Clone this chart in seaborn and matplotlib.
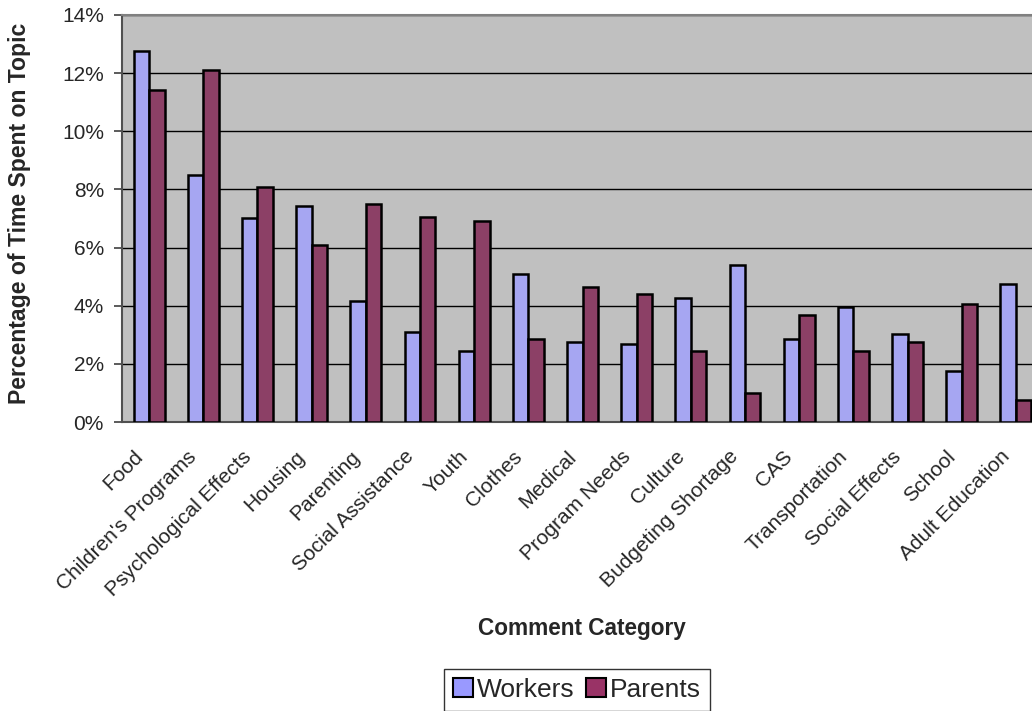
import matplotlib
matplotlib.use("Agg")
import matplotlib.pyplot as plt
import matplotlib.transforms as mtransforms
from matplotlib.ticker import PercentFormatter, FixedLocator
from matplotlib.patches import Patch
import seaborn as sns
import pandas as pd

categories = ["Food", "Children's Programs", "Psychological Effects", "Housing",
              "Parenting", "Social Assistance", "Youth", "Clothes", "Medical",
              "Program Needs", "Culture", "Budgeting Shortage", "CAS",
              "Transportation", "Social Effects", "School", "Adult Education"]
workers = [12.76, 8.51, 7.01, 7.42, 4.15, 3.10, 2.45, 5.09, 2.76,
           2.69, 4.27, 5.40, 2.87, 3.94, 3.02, 1.76, 4.74]
parents = [11.43, 12.12, 8.09, 6.10, 7.50, 7.05, 6.92, 2.85, 4.63,
           4.39, 2.43, 1.01, 3.68, 2.45, 2.76, 4.05, 0.76]
series_names = ["Workers", "Parents"]
y_ticks = [0, 2, 4, 6, 8, 10, 12, 14]

df = pd.DataFrame({
    "Category": categories * 2,
    "Value": workers + parents,
    "Group": [series_names[0]] * len(categories) + [series_names[1]] * len(categories),
})

colors = {"Workers": "#9999FF", "Parents": "#993366"}

sns.set_style("white")
plt.rcParams["font.family"] = ["Liberation Sans", "DejaVu Sans"]

W, H = 1032, 711
fig = plt.figure(figsize=(W / 100, H / 100), dpi=100)
ax = fig.add_axes([122 / W, 1 - 422 / H, 921 / W, 407 / H])
ax.set_facecolor("#C0C0C0")

sns.barplot(data=df, x="Category", y="Value", hue="Group", palette=colors,
            width=0.57, gap=0, edgecolor="black", linewidth=1.8,
            legend=False, ax=ax, zorder=3)

ax.set_ylim(0, 14)
ax.set_xlim(-0.5, len(categories) - 0.5)
ax.yaxis.set_major_locator(FixedLocator(y_ticks))
ax.yaxis.set_major_formatter(PercentFormatter(decimals=0))
ax.grid(axis="y", color="black", linewidth=1.0, zorder=1)
ax.set_axisbelow(True)

# tick marks sit on the category boundaries
ax.set_xticks(range(len(categories)))
ax.set_xticks([i - 0.5 for i in range(len(categories) + 1)], minor=True)
ax.tick_params(axis="x", which="major", length=0, labelbottom=False)
ax.tick_params(axis="x", which="minor", length=6, width=1.2, color="#606060", direction="out")
ax.tick_params(axis="y", which="major", length=6, width=1.2, color="#404040",
               direction="out", labelsize=15, pad=7, left=True)

# slanted category names, ending just left of and below each category centre
label_tf = ax.get_xaxis_transform() + mtransforms.ScaledTranslation(
    -16 / 100, -25 / 100, fig.dpi_scale_trans)
for i, name in enumerate(categories):
    ax.text(i, 0, name, transform=label_tf, rotation=45, ha="right", va="top",
            rotation_mode="anchor", fontsize=15, clip_on=False)

for side in ["top", "right", "left", "bottom"]:
    ax.spines[side].set_color("#808080")
    ax.spines[side].set_linewidth(1.5)
ax.spines["left"].set_color("#505050")
ax.spines["bottom"].set_color("#505050")

ax.set_xlabel("")
ax.set_ylabel("")
fig.text(582 / W, 1 - 628 / H, "Comment Category", ha="center", va="center",
         fontsize=16.3, fontweight="bold")
fig.text(20 / W, 1 - 213 / H, "Percentage of Time Spent on Topic", ha="center",
         va="center", rotation=90, fontsize=16.6, fontweight="bold")

handles = [Patch(facecolor=colors[n], edgecolor="black", linewidth=1.5, label=n)
           for n in series_names]
leg = fig.legend(handles=handles, loc="center", bbox_to_anchor=(577 / W, 1 - 690 / H),
                 ncol=2, fontsize=19, frameon=True, fancybox=False,
                 handlelength=0.75, handleheight=0.75, handletextpad=0.15,
                 columnspacing=0.45, borderpad=0.33, borderaxespad=0)
leg.get_frame().set_edgecolor("black")
leg.get_frame().set_linewidth(1.0)

fig.savefig("out.png", dpi=100)
